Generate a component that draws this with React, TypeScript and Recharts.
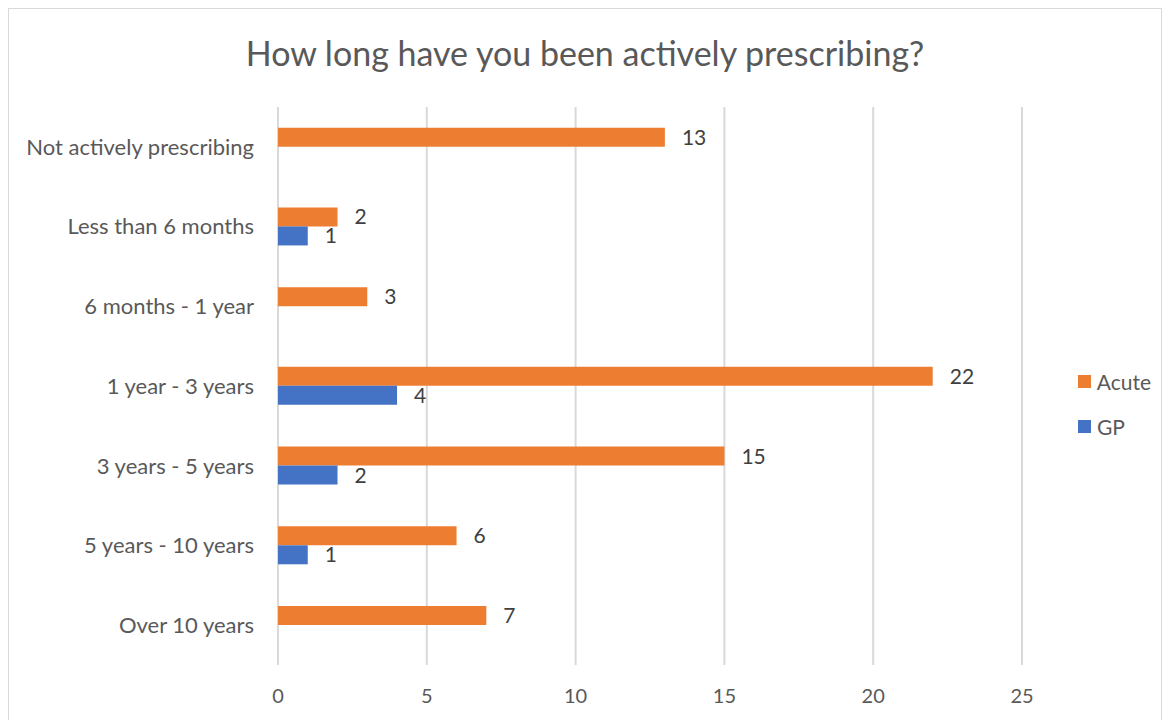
import React from "react";
import { BarChart, Bar, XAxis, YAxis, CartesianGrid, Legend, LabelList } from "recharts";

const categories = [
  "Not actively prescribing",
  "Less than 6 months",
  "6 months - 1 year",
  "1 year - 3 years",
  "3 years - 5 years",
  "5 years - 10 years",
  "Over 10 years",
];
const acuteValues = [13, 2, 3, 22, 15, 6, 7];
const gpValues: (number | null)[] = [null, 1, null, 4, 2, 1, null];
const xTicks = [0, 5, 10, 15, 20, 25];

const data = categories.map((name, i) => ({
  name,
  Acute: acuteValues[i],
  GP: gpValues[i],
}));

const FONT = "Lato, 'Open Sans', sans-serif";
const AXIS_TEXT = "#595959";
const ORANGE = "#ED7D31";
const BLUE = "#4472C4";

const renderLegend = (props: any) => {
  const items = props.payload || [];
  return (
    <div style={{ paddingLeft: 56 }}>
      {items.map((it: any) => (
        <div
          key={it.value}
          style={{
            display: "flex",
            alignItems: "center",
            height: 45,
            fontFamily: FONT,
            fontSize: 21,
            color: AXIS_TEXT,
          }}
        >
          <span
            style={{
              display: "inline-block",
              width: 13,
              height: 13,
              background: it.color,
              marginRight: 6,
            }}
          />
          {it.value}
        </div>
      ))}
    </div>
  );
};

export default function App() {
  return (
    <div
      style={{
        position: "relative",
        width: 1154,
        height: 720,
        border: "1px solid #d9d9d9",
        boxSizing: "border-box",
        background: "#fff",
      }}
    >
      <div
        style={{
          position: "absolute",
          left: 0,
          right: 0,
          top: 23,
          textAlign: "center",
          fontFamily: FONT,
          fontSize: 34,
          color: AXIS_TEXT,
        }}
      >
        How long have you been actively prescribing?
      </div>
      <BarChart
        width={1152}
        height={718}
        layout="vertical"
        data={data}
        barCategoryGap="26%"
        barGap={0}
        margin={{ top: 98, right: 10, bottom: 32, left: 10 }}
      >
        <CartesianGrid horizontal={false} stroke="#d9d9d9" strokeWidth={2} />
        <XAxis
          type="number"
          domain={[0, 25]}
          ticks={xTicks}
          axisLine={false}
          tickLine={false}
          tickMargin={18}
          tick={{ fill: AXIS_TEXT, fontSize: 20, fontFamily: FONT }}
        />
        <YAxis
          type="category"
          dataKey="name"
          width={259}
          axisLine={false}
          tickLine={false}
          tickMargin={18}
          tick={{ fill: AXIS_TEXT, fontSize: 22, fontFamily: FONT }}
        />
        <Legend
          layout="vertical"
          align="right"
          verticalAlign="middle"
          wrapperStyle={{ width: 129, top: 350 }}
          content={renderLegend}
        />
        <Bar dataKey="Acute" fill={ORANGE} isAnimationActive={false}>
          <LabelList
            dataKey="Acute"
            position="right"
            offset={17}
            fill="#404040"
            fontSize={21}
            fontFamily={FONT}
          />
        </Bar>
        <Bar dataKey="GP" fill={BLUE} isAnimationActive={false}>
          <LabelList
            dataKey="GP"
            position="right"
            offset={17}
            fill="#404040"
            fontSize={21}
            fontFamily={FONT}
          />
        </Bar>
      </BarChart>
    </div>
  );
}
